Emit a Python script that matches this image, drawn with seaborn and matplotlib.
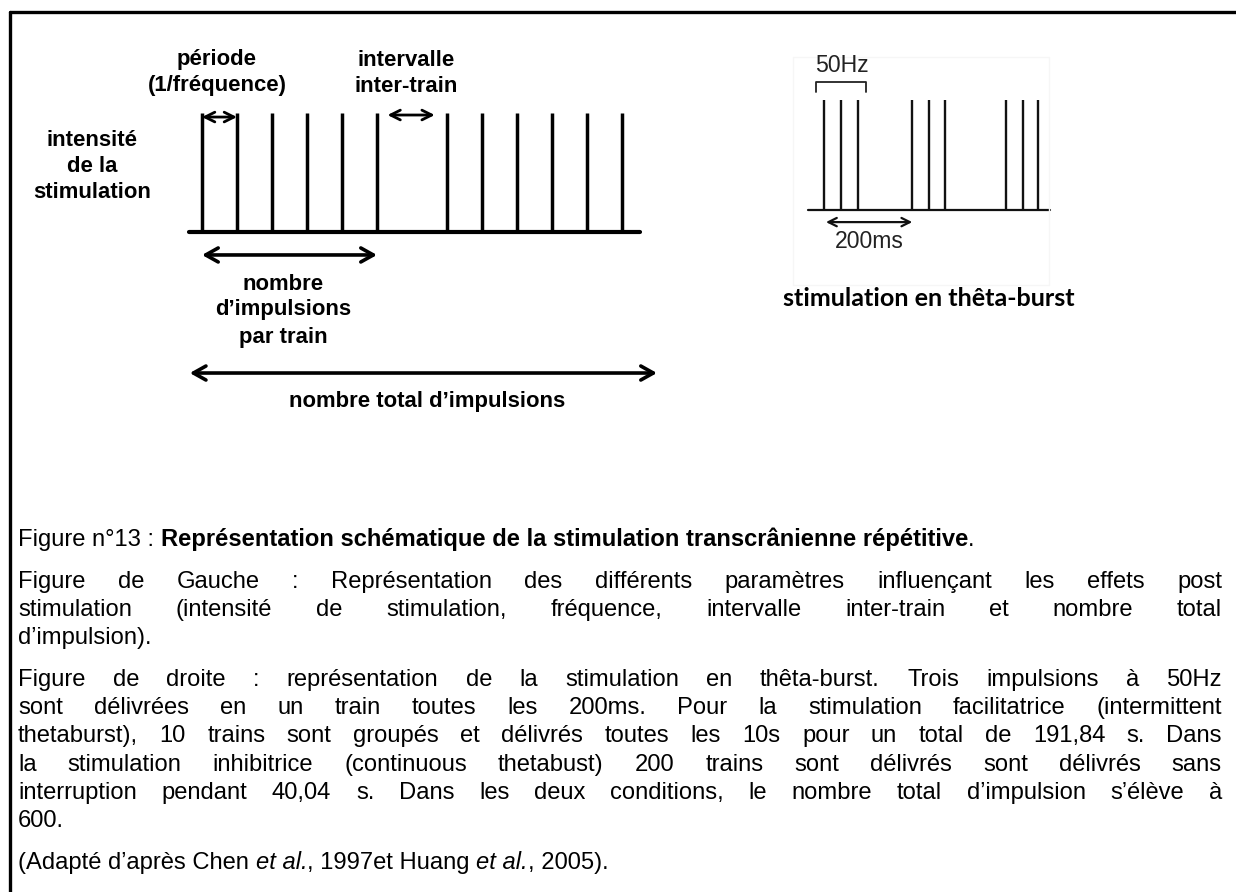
import matplotlib
matplotlib.use("Agg")
import matplotlib.pyplot as plt
from matplotlib.transforms import Affine2D
from matplotlib.lines import Line2D
from matplotlib.patches import Rectangle
import seaborn as sns

sns.set_theme(style="white")
plt.rcParams['font.family'] = ['Liberation Sans', 'DejaVu Sans']

W, H, DPI = 1236, 892, 100

# --- left schematic (x in periods, y in stimulation intensity) ---
train_pulses = [0, 1, 2, 3, 4, 5, 7, 8, 9, 10, 11, 12]
baseline_span = (-0.38, 12.5)
period_span = (0, 1)
intertrain_span = (5.3, 6.65)
per_train_span = (0, 5)
total_span = (-0.35, 13.0)

# --- right schematic: theta burst (3 pulses at 50Hz, every 200ms) ---
theta_pulses = [0, 1, 2, 5.3, 6.3, 7.3, 10.95, 11.95, 12.9]
theta_baseline = (-0.98, 13.6)
burst_span = (0.1, 5.3)
bracket_span = (-0.5, 2.5)

left_labels = [
    ("période", 217, 60), ("(1/fréquence)", 217, 86),
    ("intervalle", 406, 60), ("inter-train", 406, 86),
    ("intensité", 92, 141), ("de la", 92, 167), ("stimulation", 92, 193),
    ("nombre", 283, 284), ("d’impulsions", 283, 310), ("par train", 283, 337),
    ("nombre total d’impulsions", 427, 402),
]

para_gauche = [
    "Figure de Gauche : Représentation des différents paramètres influençant les effets post",
    "stimulation (intensité de stimulation, fréquence, intervalle inter-train et nombre total",
    "d’impulsion).",
]
para_droite = [
    "Figure de droite : représentation de la stimulation en thêta-burst. Trois impulsions à 50Hz",
    "sont délivrées en un train toutes les 200ms. Pour la stimulation facilitatrice (intermittent",
    "thetaburst), 10 trains sont groupés et délivrés toutes les 10s pour un total de 191,84 s. Dans",
    "la stimulation inhibitrice (continuous thetabust) 200 trains sont délivrés sont délivrés sans",
    "interruption pendant 40,04 s. Dans les deux conditions, le nombre total d’impulsion s’élève à",
    "600.",
]

fig = plt.figure(figsize=(W / DPI, H / DPI), dpi=DPI)
fig.patch.set_facecolor("white")
pix = Affine2D().scale(1 / W, -1 / H).translate(0, 1) + fig.transFigure
renderer = fig.canvas.get_renderer()


def px_axes(x0, y0, x1, y1, ox, ux, oy, uy):
    ax = fig.add_axes([x0 / W, 1 - y1 / H, (x1 - x0) / W, (y1 - y0) / H])
    ax.set_xlim((x0 - ox) / ux, (x1 - ox) / ux)
    ax.set_ylim((oy - y1) / uy, (oy - y0) / uy)
    ax.set_axis_off()
    return ax


def width(s, **kw):
    t = fig.text(0, 0, s, transform=pix, **kw)
    w = t.get_window_extent(renderer).width
    t.remove()
    return w


def arrow(ax, span, y, lw, hl, hw, ms, color="black"):
    ax.annotate("", xy=(span[1], y), xytext=(span[0], y),
                arrowprops=dict(arrowstyle=f"<->,head_length={hl},head_width={hw}",
                                lw=lw, color=color, shrinkA=0, shrinkB=0,
                                mutation_scale=ms))


# frame lines (top and left)
fig.add_artist(Line2D([10, W], [12, 12], transform=pix, color="black", lw=2.4))
fig.add_artist(Line2D([10, 10], [12, H], transform=pix, color="black", lw=2.4))

# left schematic
axl = px_axes(20, 20, 690, 440, ox=202, ux=35, oy=232, uy=119)
axl.vlines(train_pulses, 0, 1, color="black", lw=2.5)
sns.lineplot(x=list(baseline_span), y=[0, 0], color="black", lw=3, ax=axl)
arrow(axl, period_span, 0.966, 2.0, 0.5, 0.25, 14)
arrow(axl, intertrain_span, 0.983, 2.0, 0.5, 0.25, 14)
arrow(axl, per_train_span, -0.193, 2.6, 0.5, 0.28, 18)
arrow(axl, total_span, -1.185, 2.6, 0.5, 0.28, 18)

for s, x, y in left_labels:
    fig.text(x, y, s, transform=pix, ha="center", va="center",
             fontsize=15.9, fontweight="bold", color="black")

# right schematic
fig.add_artist(Rectangle((793, 57), 256, 228, transform=pix, fill=False,
                         edgecolor="#f6f6f6", lw=1))
axr = px_axes(790, 40, 1070, 320, ox=824.3, ux=16.6, oy=210, uy=110)
axr.vlines(theta_pulses, 0, 1, color="#111111", lw=1.7)
sns.lineplot(x=list(theta_baseline), y=[0, 0], color="#111111", lw=1.6, ax=axr)
arrow(axr, burst_span, -0.11, 1.6, 0.5, 0.25, 12, color="#111111")
bx0, bx1 = bracket_span
axr.plot([bx0, bx0, bx1, bx1], [1.075, 1.166, 1.166, 1.075], color="#222222", lw=1.3)
fig.text(815, 66, "50Hz", transform=pix, ha="left", va="center",
         fontsize=16.6, color="#222222")
fig.text(835, 242, "200ms", transform=pix, ha="left", va="center",
         fontsize=16.6, color="#222222")
fig.text(929, 298, "stimulation en thêta-burst", transform=pix, ha="center",
         va="center", fontsize=18.1, fontweight="bold", family=["Lato", "DejaVu Sans"],
         color="black")

# caption, justified between L and R
L, R = 18, 1222
CAP = dict(fontsize=17.1, color="black")
space_w = width("a a", **CAP) - width("aa", **CAP)
LINE, PARA = 28.2, 13.6


def run(pieces, y):
    x = L
    for s, kw in pieces:
        if s == " ":
            x += space_w
            continue
        fig.text(x, y, s, transform=pix, ha="left", va="baseline", **CAP, **kw)
        x += width(s, **CAP, **kw)


def justified(lines, y0):
    for i, line in enumerate(lines):
        y = y0 + i * LINE
        words = line.split(" ")
        if i == len(lines) - 1 or len(words) == 1:
            fig.text(L, y, line, transform=pix, ha="left", va="baseline", **CAP)
            continue
        ws = [width(w, **CAP) for w in words]
        gap = max((R - L - sum(ws)) / (len(words) - 1), space_w * 0.6)
        x = L
        for w, wd in zip(words, ws):
            fig.text(x, y, w, transform=pix, ha="left", va="baseline", **CAP)
            x += wd + gap


y = 546
run([("Figure n°13 :", {}), (" ", {}),
     ("Représentation schématique de la stimulation transcrânienne répétitive", {"fontweight": "bold"}),
     (".", {})], y)
y += LINE + PARA
justified(para_gauche, y)
y += len(para_gauche) * LINE + PARA
justified(para_droite, y)
y += len(para_droite) * LINE + PARA
run([("(Adapté d’après Chen", {}), (" ", {}), ("et al.", {"style": "italic"}),
     (", 1997et Huang", {}), (" ", {}), ("et al.", {"style": "italic"}),
     (", 2005).", {})], y)

fig.savefig("out.png", dpi=DPI, facecolor="white")
